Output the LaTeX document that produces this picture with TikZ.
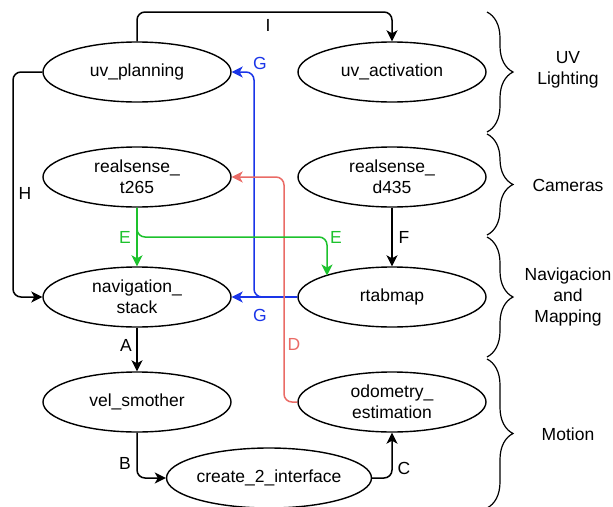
\documentclass[tikz,border=0pt]{standalone}
\usepackage{fontspec}
\setmainfont{Liberation Sans}
\usetikzlibrary{shapes.geometric,arrows.meta,decorations.pathreplacing}
\definecolor{eblue}{HTML}{1A35E8}
\definecolor{egreen}{HTML}{1DC22D}
\definecolor{ered}{HTML}{EA6B66}
\tikzset{
  proc/.style={ellipse,draw=black,line width=1.4pt,minimum width=188pt,minimum height=60pt,inner sep=0pt,align=center,font=\fontsize{17.5}{21}\selectfont},
  conn/.style={line width=1.5pt,rounded corners=8pt,-{Stealth[length=11pt,width=11pt,inset=3pt]}},
  lbl/.style={font=\fontsize{17.5}{21}\selectfont,inner sep=0pt},
  grp/.style={font=\fontsize{17.5}{21}\selectfont,align=center,inner sep=0pt},
  brc/.style={draw,line width=1.2pt,decorate,decoration={brace,amplitude=26pt}}
}
\begin{document}
\begin{tikzpicture}[x=1pt,y=-1pt]
\useasboundingbox (0,0) rectangle (613,506);
\node[proc] (uvp) at (137,72) {uv\_planning};
\node[proc] (uva) at (392,72) {uv\_activation};
\node[proc] (t265) at (137,177) {realsense\_\\t265};
\node[proc] (d435) at (392,177) {realsense\_\\d435};
\node[proc] (nav) at (137,297) {navigation\_\\stack};
\node[proc] (rtab) at (392,297) {rtabmap};
\node[proc] (vel) at (137,402) {vel\_smother};
\node[proc] (odo) at (392,402) {odometry\_\\estimation};
\node[proc,minimum width=182pt] (c2i) at (269,478) {create\_2\_interface};

% I
\coordinate (i1) at (137,12);
\coordinate (i2) at (392,12);
\draw[conn] (uvp.north) -- (i1) -- (i2) -- (uva.north);
\node[lbl] (lI) at (268,25) {I};
% H
\coordinate (h1) at (13,72);
\coordinate (h2) at (13,297);
\draw[conn] (uvp.west) -- (h1) -- (h2) -- (nav.west);
\node[lbl] (lH) at (25,193) {H};
% G
\coordinate (g1) at (254,297);
\coordinate (g2) at (254,72);
\draw[conn,eblue] (rtab.west) -- (nav.east);
\draw[conn,eblue] (rtab.west) -- (g1) -- (g2) -- (uvp.east);
\node[lbl,text=eblue] (lG1) at (260,63) {G};
\node[lbl,text=eblue] (lG2) at (260,315) {G};
% D
\coordinate (d1) at (284,402);
\coordinate (d2) at (284,177);
\draw[conn,ered] (odo.west) -- (d1) -- (d2) -- (t265.east);
\node[lbl,text=ered] (lD) at (294,344) {D};
% E
\coordinate (e1) at (137,237);
\coordinate (e2) at (327,237);
\coordinate (e3) at (327,275.5);
\draw[conn,egreen] (t265.south) -- (nav.north);
\draw[conn,egreen] (t265.south) -- (e1) -- (e2) -- (e3);
\node[lbl,text=egreen] (lE1) at (125,237) {E};
\node[lbl,text=egreen] (lE2) at (336,237) {E};
% F
\draw[conn] (d435.south) -- (rtab.north);
\node[lbl] (lF) at (404,237) {F};
% A
\draw[conn] (nav.south) -- (vel.north);
\node[lbl] (lA) at (126,345) {A};
% B
\coordinate (b1) at (137,478);
\draw[conn] (vel.south) -- (b1) -- (c2i.west);
\node[lbl] (lB) at (125,463) {B};
% C
\coordinate (c1) at (392,478);
\draw[conn] (c2i.east) -- (c1) -- (odo.south);
\node[lbl] (lC) at (404,468) {C};

% braces
\coordinate (br0) at (487,12);
\coordinate (br1) at (487,132);
\coordinate (br1b) at (487,134);
\coordinate (br2) at (487,235);
\coordinate (br2b) at (487,237);
\coordinate (br3) at (487,357);
\coordinate (br3b) at (487,359);
\coordinate (br4) at (487,508);
\draw[brc] (br0) -- (br1);
\draw[brc] (br1b) -- (br2);
\draw[brc] (br2b) -- (br3);
\draw[brc] (br3b) -- (br4);
\node[grp] (gUV) at (568,70) {UV\\Lighting};
\node[grp] (gCam) at (568,185) {Cameras};
\node[grp] (gNav) at (568,297) {Navigacion\\and\\Mapping};
\node[grp] (gMot) at (568,434) {Motion};
\end{tikzpicture}
\end{document}
